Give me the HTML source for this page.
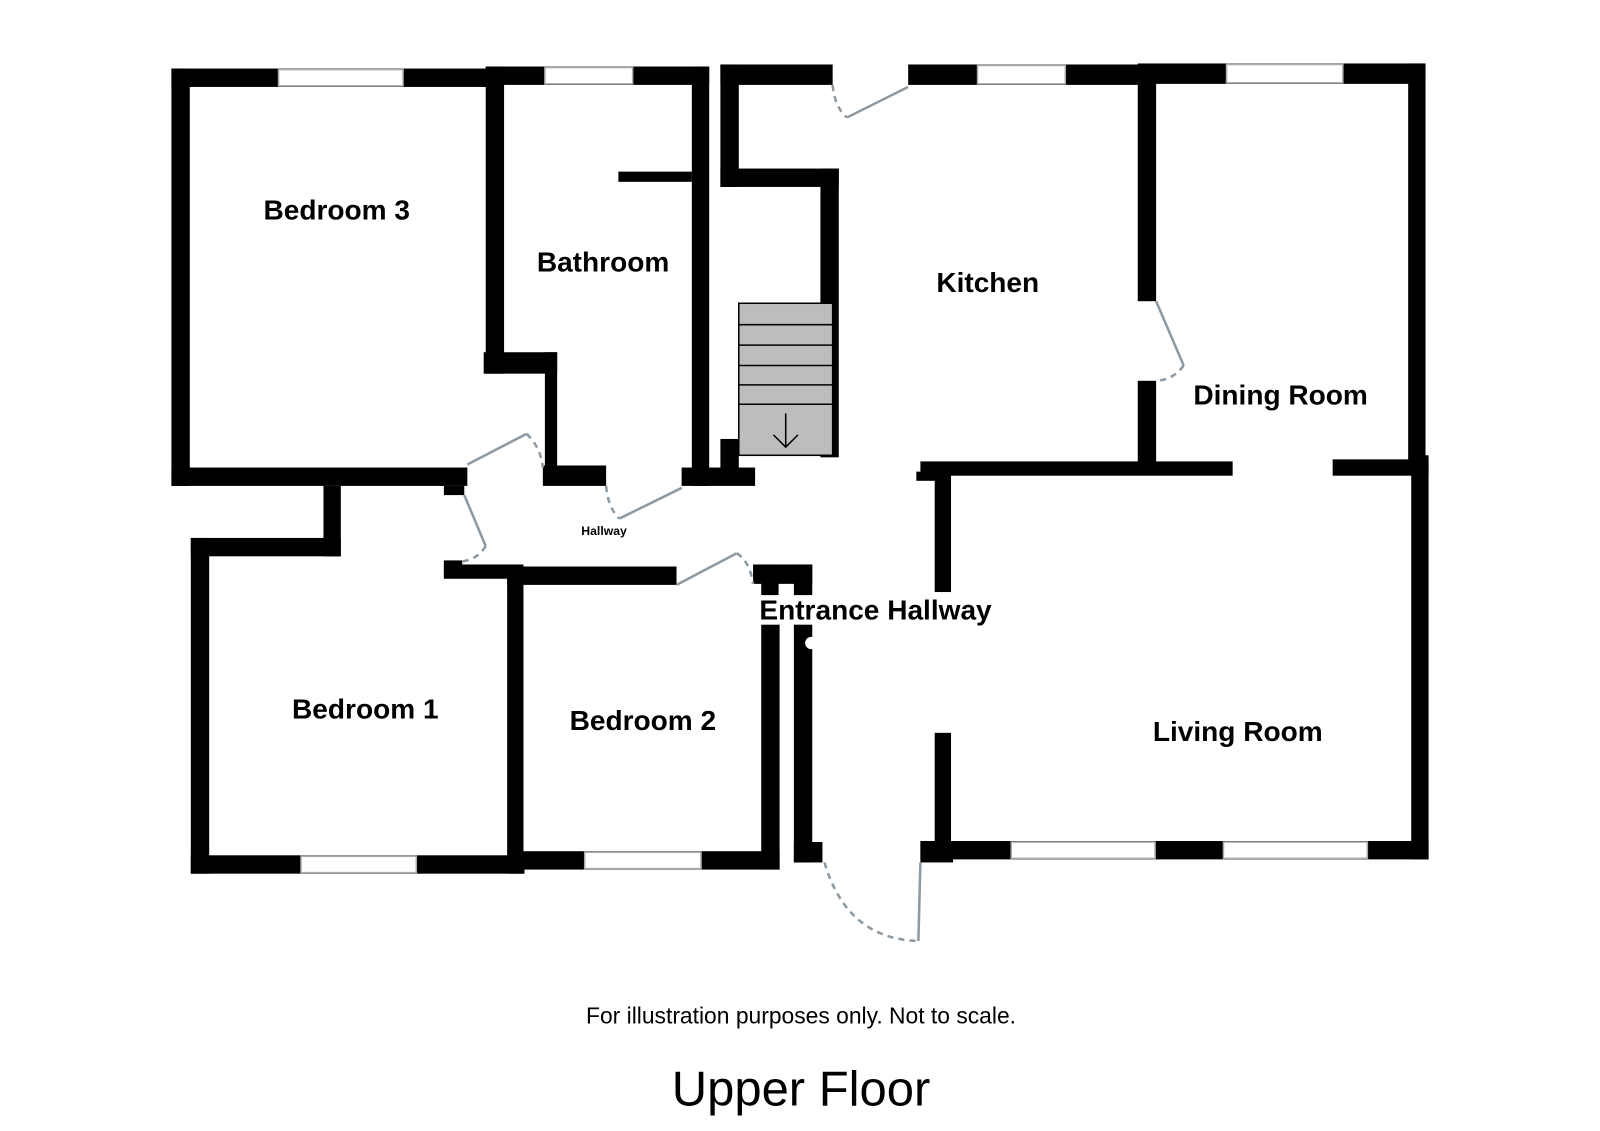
<!DOCTYPE html>
<html><head><meta charset="utf-8"><style>
html,body{margin:0;padding:0;background:#fff;width:1600px;height:1131px;overflow:hidden}
svg{display:block}
text{font-family:"Liberation Sans",sans-serif;fill:#000}
.l{font-weight:bold;font-size:27.5px}
</style></head><body>
<svg width="1600" height="1131" viewBox="0 0 1568 1108" xmlns="http://www.w3.org/2000/svg">
<g fill="#000">
<rect x="168" y="67" width="310" height="18"/>
<rect x="168" y="67" width="18" height="409"/>
<rect x="168" y="458" width="290" height="18"/>
<rect x="476" y="65" width="219" height="18"/>
<rect x="476" y="65" width="18" height="301"/>
<rect x="474" y="345" width="72" height="21"/>
<rect x="534" y="345" width="12" height="113"/>
<rect x="532" y="456" width="62" height="20"/>
<rect x="678" y="65" width="17" height="411"/>
<rect x="606" y="168" width="72" height="10"/>
<rect x="668" y="458" width="72" height="18"/>
<rect x="706" y="430" width="18" height="30"/>
<rect x="435" y="476" width="20" height="9"/>
<rect x="706" y="63" width="110" height="20"/>
<rect x="706" y="63" width="18" height="120"/>
<rect x="706" y="165" width="116" height="18"/>
<rect x="804" y="165" width="18" height="283"/>
<rect x="890" y="63" width="227" height="20"/>
<rect x="1115" y="63" width="18" height="232"/>
<rect x="1115" y="373" width="18" height="85"/>
<rect x="1115" y="62" width="282" height="20"/>
<rect x="1380" y="62" width="17" height="390"/>
<rect x="902" y="452" width="306" height="14"/>
<rect x="1306" y="450" width="94" height="16"/>
<rect x="898" y="462" width="20" height="9"/>
<rect x="1383" y="446" width="17" height="396"/>
<rect x="902" y="824" width="498" height="18"/>
<rect x="916" y="460" width="16" height="120"/>
<rect x="916" y="718" width="16" height="112"/>
<rect x="902" y="825" width="32" height="20"/>
<rect x="738" y="553" width="58" height="19"/>
<rect x="746" y="553" width="17" height="30"/>
<rect x="778" y="553" width="18" height="30"/>
<rect x="746" y="612" width="18" height="240"/>
<rect x="778" y="612" width="18" height="233"/>
<rect x="778" y="825" width="28" height="20"/>
<rect x="187" y="527" width="147" height="18"/>
<rect x="317" y="476" width="17" height="69"/>
<rect x="187" y="527" width="18" height="329"/>
<rect x="187" y="838" width="327" height="18"/>
<rect x="497" y="565" width="16" height="291"/>
<rect x="435" y="549" width="18" height="16"/>
<rect x="435" y="553" width="78" height="14"/>
<rect x="497" y="555" width="166" height="18"/>
<rect x="510" y="834" width="254" height="18"/>
</g>
<circle cx="795" cy="630" r="6" fill="#fff"/>
<g fill="#fff" stroke="#aaa" stroke-width="1.5">
<rect x="273" y="68" width="122" height="16"/>
<rect x="534" y="66" width="86" height="16"/>
<rect x="958" y="64" width="86" height="18"/>
<rect x="1202" y="63" width="114" height="18"/>
<rect x="991" y="825" width="141" height="16"/>
<rect x="1199" y="825" width="141" height="16"/>
<rect x="295" y="839" width="113" height="16"/>
<rect x="573" y="835" width="114" height="16"/>
</g>
<rect x="724" y="297" width="92" height="149" fill="#bdbdbd" stroke="#000" stroke-width="1.5"/>
<g stroke="#000" stroke-width="1.5">
<line x1="724" y1="318" x2="816" y2="318"/>
<line x1="724" y1="338" x2="816" y2="338"/>
<line x1="724" y1="358" x2="816" y2="358"/>
<line x1="724" y1="377" x2="816" y2="377"/>
<line x1="724" y1="396" x2="816" y2="396"/>
<line x1="770" y1="405" x2="770" y2="438"/>
<polyline points="758,426 770,438 782,426" fill="none"/>
</g>
<g fill="none" stroke="#8e9aa3" stroke-width="2.5">
<line x1="830" y1="115" x2="890" y2="85"/>
<line x1="1133" y1="295" x2="1160" y2="358"/>
<line x1="458" y1="455" x2="516" y2="425"/>
<line x1="455" y1="485" x2="476" y2="535"/>
<line x1="607" y1="508" x2="668" y2="478"/>
<line x1="663" y1="573" x2="722" y2="542"/>
<line x1="900" y1="922" x2="902" y2="845"/>
</g>
<g fill="none" stroke="#8e9aa3" stroke-width="2.5" stroke-dasharray="6,5">
<path d="M816,83 Q818,105 830,115"/>
<path d="M1160,358 Q1150,372 1133,373"/>
<path d="M516,425 Q530,438 532,458"/>
<path d="M476,535 Q468,548 453,550"/>
<path d="M594,476 Q596,498 607,508"/>
<path d="M722,542 Q735,550 738,572"/>
<path d="M808,845 Q830,920 900,922"/>
</g>
<text class="l" x="330" y="215" text-anchor="middle">Bedroom 3</text>
<text class="l" x="591" y="266" text-anchor="middle">Bathroom</text>
<text class="l" x="968" y="286" text-anchor="middle">Kitchen</text>
<text class="l" x="1255" y="396" text-anchor="middle">Dining Room</text>
<text x="592" y="524" text-anchor="middle" font-weight="bold" font-size="12">Hallway</text>
<text class="l" x="858" y="607" text-anchor="middle">Entrance Hallway</text>
<text class="l" x="358" y="704" text-anchor="middle">Bedroom 1</text>
<text class="l" x="630" y="715" text-anchor="middle">Bedroom 2</text>
<text class="l" x="1213" y="726" text-anchor="middle">Living Room</text>
<text x="785" y="1003" text-anchor="middle" font-size="22.4">For illustration purposes only. Not to scale.</text>
<text x="785" y="1083" text-anchor="middle" font-size="48">Upper Floor</text>
</svg>
</body></html>
